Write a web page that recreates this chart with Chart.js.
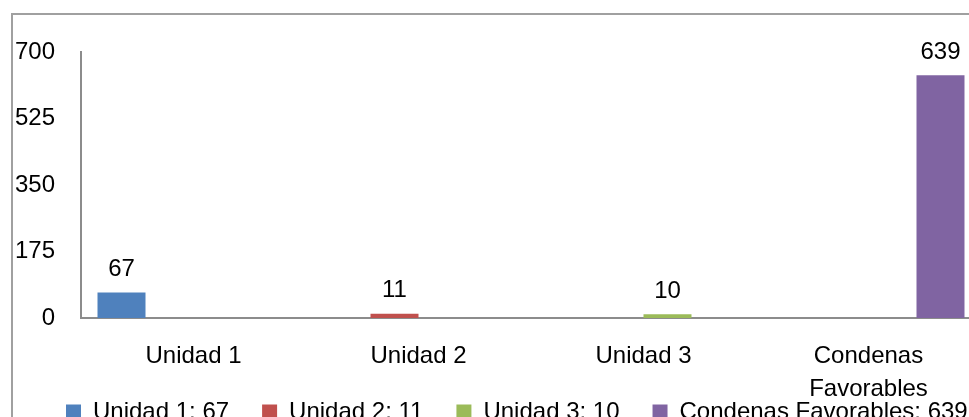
<!DOCTYPE html>
<html>
<head>
<meta charset="utf-8">
<script src="https://cdn.jsdelivr.net/npm/chart.js@4.4.1/dist/chart.umd.min.js"></script>
<style>
  html, body { margin: 0; padding: 0; background: #ffffff; overflow: hidden; width: 969px; height: 417px; }
  #frame { position: absolute; left: 11px; top: 13px; width: 2000px; height: 1000px; border: 2px solid #a0a0a0; box-sizing: border-box; }
  #c { position: absolute; left: 0; top: 0; }
</style>
</head>
<body>
<div id="frame"></div>
<canvas id="c" width="1020" height="434" style="width:1020px;height:434px"></canvas>
<script>
// ---- data ----
const categories = ['Unidad 1', 'Unidad 2', 'Unidad 3', ['Condenas', 'Favorables']];
const seriesNames = ['Unidad 1', 'Unidad 2', 'Unidad 3', 'Condenas Favorables'];
const unidad1 = [67, null, null, null];
const unidad2 = [null, 11, null, null];
const unidad3 = [null, null, 10, null];
const condenasFavorables = [null, null, null, 639];
const yTicks = [0, 175, 350, 525, 700];
const seriesColors = ['#4F81BD', '#C0504D', '#9BBB59', '#8064A2'];

const FONT = "'Liberation Sans', Arial, sans-serif";
const FS = 24;

const seriesValues = [unidad1, unidad2, unidad3, condenasFavorables];
const datasets = seriesValues.map((vals, i) => {
  const total = vals.reduce((a, v) => a + (v == null ? 0 : v), 0);
  return {
    label: seriesNames[i] + ': ' + total,
    data: vals,
    backgroundColor: seriesColors[i],
    borderWidth: 0,
    categoryPercentage: 0.8533,
    barPercentage: 1.0,
    yAxisID: 'y'
  };
});

const valueLabels = {
  id: 'valueLabels',
  afterDatasetsDraw(chart) {
    const ctx = chart.ctx;
    ctx.save();
    ctx.font = FS + 'px ' + FONT;
    ctx.fillStyle = '#000000';
    ctx.textAlign = 'center';
    ctx.textBaseline = 'middle';
    chart.data.datasets.forEach((ds, i) => {
      const meta = chart.getDatasetMeta(i);
      meta.data.forEach((bar, j) => {
        const v = ds.data[j];
        if (v == null) return;
        ctx.fillText(String(v), bar.x, bar.y - 23);
      });
    });
    ctx.restore();
  }
};

// let tick labels draw outside the (narrow) axis boxes instead of being clipped
const unclipLabels = {
  id: 'unclipLabels',
  afterLayout(chart) {
    chart.scales.y.left = 0;
    chart.scales.x.bottom = chart.height;
  }
};

new Chart(document.getElementById('c'), {
  type: 'bar',
  data: { labels: categories, datasets: datasets },
  options: {
    responsive: false,
    animation: false,
    devicePixelRatio: 1,
    layout: { padding: { left: 33, right: 9, top: 52, bottom: 0 } },
    plugins: {
      tooltip: { enabled: false },
      legend: {
        position: 'bottom',
        align: 'start',
        labels: {
          boxWidth: 15,
          boxHeight: 15,
          padding: 33,
          color: '#000000',
          font: { family: FONT, size: FS }
        }
      }
    },
    scales: {
      x: {
        grid: { display: false, drawTicks: false },
        border: { display: true, color: '#8c8c8c', width: 2 },
        ticks: {
          color: '#000000',
          padding: 22,
          maxRotation: 0,
          autoSkip: false,
          font: { family: FONT, size: FS, lineHeight: 1.375 }
        },
        afterFit: (s) => { s.height = 49; }
      },
      y: {
        min: 0,
        max: 700,
        afterBuildTicks: (s) => { s.ticks = yTicks.map(v => ({ value: v })); },
        grid: { display: false, drawTicks: false },
        border: { display: true, color: '#8c8c8c', width: 2 },
        ticks: {
          color: '#000000',
          padding: 26,
          font: { family: FONT, size: FS }
        },
        afterFit: (s) => { s.width = 48; }
      },
      yR: {
        type: 'linear',
        position: 'right',
        display: true,
        grid: { display: false, drawTicks: false },
        border: { display: false },
        ticks: { display: false },
        afterFit: (s) => { s.width = 30; }
      }
    }
  },
  plugins: [valueLabels, unclipLabels]
});
</script>
</body>
</html>
